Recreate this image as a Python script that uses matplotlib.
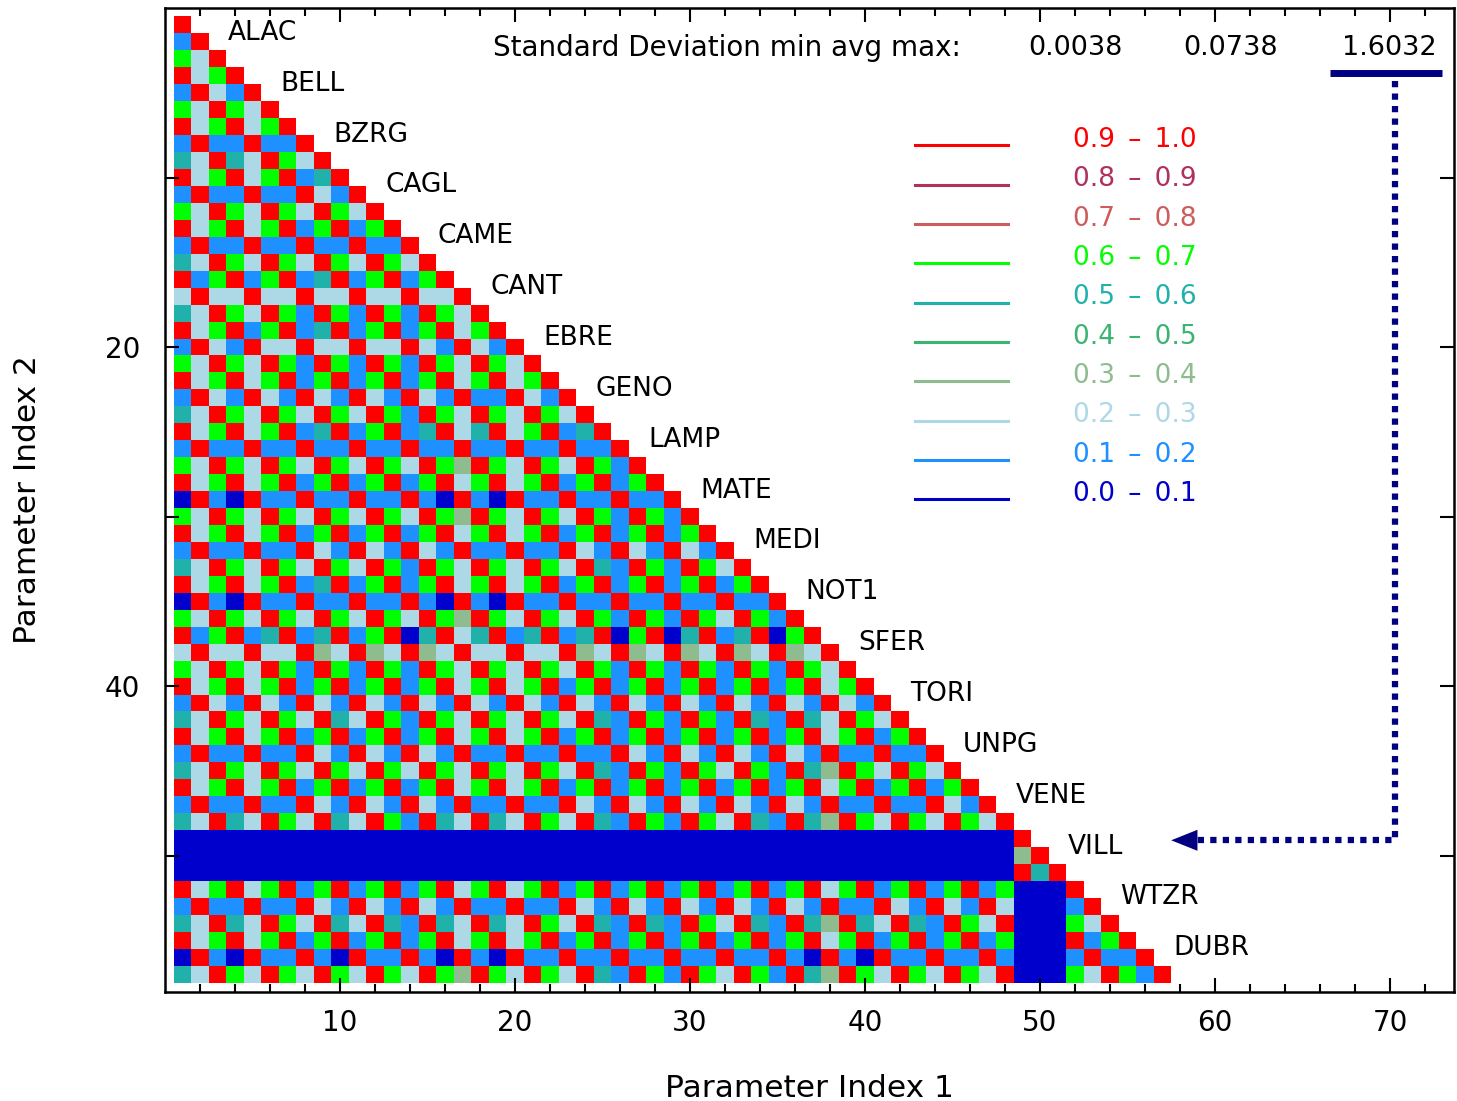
import numpy as np
import matplotlib
matplotlib.use('Agg')
import matplotlib.pyplot as plt
from matplotlib.colors import ListedColormap, BoundaryNorm

stations = ['ALAC', 'BELL', 'BZRG', 'CAGL', 'CAME', 'CANT', 'EBRE', 'GENO',
            'LAMP', 'MATE', 'MEDI', 'NOT1', 'SFER', 'TORI', 'UNPG', 'VENE',
            'VILL', 'WTZR', 'DUBR']

# correlation classes, lowest first; one letter per class in the rows below
class_codes = ['N', 'B', 'L', 'D', 'S', 'T', 'G', 'I', 'M', 'R']
class_colors = ['#0000cd', '#1e90ff', '#add8e6', '#8fbc8f', '#3cb371',
                '#20b2aa', '#00ff00', '#cd5c5c', '#b03060', '#ff0000']
class_lo = ['0.0', '0.1', '0.2', '0.3', '0.4', '0.5', '0.6', '0.7', '0.8', '0.9']
class_hi = ['0.1', '0.2', '0.3', '0.4', '0.5', '0.6', '0.7', '0.8', '0.9', '1.0']

sd_min, sd_avg, sd_max = '0.0038', '0.0738', '1.6032'
worst_station = 'VILL'

# lower triangle, row i = parameter i (groups of 3 = one station)
rows = [
    'R',
    'BR',
    'GLR',
    'RLG R',
    'BRL BR',
    'GLR GLR',
    'RLG RLG R',
    'BRB BRB BR',
    'TLR TLR GLR',
    'RLG RLG RBT R',
    'BRB BRB BRL BR',
    'GLR GLR GLR GLR',
    'RLG RLG RBG RBG R',
    'BRB BRB BRB BRB BR',
    'TLR GLR GLR GLR GLR',
    'RBG RBG RBT RBG RBG R',
    'LRL LRL LRL LRL LRL LR',
    'TLR GLR GBR GBR GBR GLR',
    'RLG RBG RBT RBG RBG RLG R',
    'BRL BRL LRL LRL LRL BRL BR',
    'GLR GLR GBR GBR GBR GLR GLR',
    'RLG RLG RBG RBG RBG RLG RLG R',
    'BRL BRL BRL BRL BRL BRB BRL BR',
    'TLR GLR GLR GLR GBR GLR GLR GLR',
    'RLG RLG RBT RBG RBT RLT RLG RBT R',
    'BRB BRB BRB BRB BRB BRB BRB BRB BR',
    'GLR GLR GLR GLR GLR GDR GLR GLR GBR',
    'RLG RLG RBG RBG RBG RLG RLG RBG RBG R',
    'NRB NRB BRB BRB BRB NRB NRB BRB BRB BR',
    'GLR GLR GLR GLR GLR GDR GLR GLR GBR GBR',
    'RLG RLG RBG RBG RBG RLG RLG RBG RBG RBG R',
    'BRB BRB BRL BRL BRL BRB BRB BRL BRL BRL BR',
    'TLR GLR GLR GLR GBR GLR GLR GLR TBR GBR GLR',
    'RLG RLG RBT RBG RBG RLG RLG RBG RBG RBG RBG R',
    'NRB NRB BRB BRB BRB NRB NRB BRB BRB BRB BRB BR',
    'GLR GLR GLR GLR GLR GDR GLR GLR GBR GBR GLR GBR',
    'RBG RBT RBT RBG RNT RLT RBT RBT RNG RNT RBT RNG R',
    'LRL LRL LRD LRD LRD LRL LRL LRD LRD LRD LRD LRD LR',
    'GLR GLR GBR GBR GBR GLR GLR GLR GBR GBR GBR GBR GLR',
    'RLG RLG RBG RBG RBG RLG RLG RBG RBG RBG RBG RBG RLG R',
    'BRL BRL BRL BRL BRL BRL BRL BRL BRL BRL BRL BRL BRL BR',
    'TLR GLR GLR TLR GBR GLR GLR GLR TBR GBR GBR TBR TLR GLR',
    'RLG RLG RBG RBG RBG RLG RLG RBG RBG RBG RBG RBG RLG RBG R',
    'BRB BRB BRL BRL BRL BRB BRB BRB BRL BRL BRL BRL BRB BRB BR',
    'TLR GLR GLR GLR GLR GLR GLR GLR TBR GBR GLR GBR TDR GLR GLR',
    'RLG RLG RBG RBG RBG RLG RLG RBG RBG RBG RBG RBG RLG RBG RBG R',
    'BRB BRB BRL BRL BRL BRB BRB BRL BRL BRL BRL BRL BRB BRB BRL BR',
    'TLR TLR GLR TLR GBR TLR TLR GLR TBR GBR GLR TBR TDR GLR GLR GLR',
    'NNN NNN NNN NNN NNN NNN NNN NNN NNN NNN NNN NNN NNN NNN NNN NNN R',
    'NNN NNN NNN NNN NNN NNN NNN NNN NNN NNN NNN NNN NNN NNN NNN NNN DR',
    'NNN NNN NNN NNN NNN NNN NNN NNN NNN NNN NNN NNN NNN NNN NNN NNN RTR',
    'RLG RLG RBG RBG RBG RLG RLG RBG RBG RBG RBG RBG RLG RBG RBG RBG NNN R',
    'BRB BRB BRL BRL BRL BRB BRB BRL BRL BRL BRL BRL BRB BRL BRL BRL NNN BR',
    'TLR TLR GLR TLR TBR TLR TLR GLR TBR TBR GLR TBR TDR TLR TBR GLR NNN GLR',
    'RLG RLG RBG RBG RBG RLG RLG RBG RBG RBG RBG RBG RLG RBG RBG RBG NNN RBG R',
    'NRB NRB BRB NRB BRB NRB NRB BRB BRB BRB BRB BRB NRB NRB BRB BRB NNN BRB BR',
    'TLR GLR GLR GLR GLR GDR GLR GLR TBR GBR GLR GBR TDR GLR GLR GLR NNN GLR GBR',
]

n = len(rows)
mat = np.full((n, n), np.nan)
for i, row in enumerate(rows):
    row = row.replace(' ', '')
    assert len(row) == i + 1, (i + 1, len(row))
    for j, ch in enumerate(row):
        mat[i, j] = class_codes.index(ch)
mat = np.ma.masked_invalid(mat)

cmap = ListedColormap(class_colors)
norm = BoundaryNorm(np.arange(-0.5, len(class_colors) + 0.5), len(class_colors))

W, H = 1457, 1101
fig = plt.figure(figsize=(W / 100, H / 100), dpi=100)
ax = fig.add_axes([165 / W, 109 / H, 1289 / W, 984 / H])

edges = np.arange(0.5, n + 1.5)
ax.pcolormesh(edges, edges, mat, cmap=cmap, norm=norm)

ax.set_xlim(0, 73.66)
ax.set_ylim(58.05, 0)

ax.set_xticks(np.arange(10, 71, 10))
ax.set_xticks(np.arange(2, 74, 2), minor=True)
ax.set_yticks(np.arange(10, 51, 10))
ax.set_yticklabels(['', '20', '', '40', ''])
ax.tick_params(which='both', direction='in', top=True, right=True, width=1.5)
ax.tick_params(which='major', length=10, labelsize=20)
ax.tick_params(which='minor', length=6)
ax.tick_params(axis='x', pad=12)
ax.tick_params(axis='y', pad=18)
for sp in ax.spines.values():
    sp.set_linewidth(1.8)

ax.set_xlabel('Parameter Index 1', fontsize=22.5, va='baseline')
ax.xaxis.set_label_coords(0.5, (992 - 1097) / 984)
ax.set_ylabel('Parameter Index 2', fontsize=22.5, va='center')
ax.yaxis.set_label_coords((28 - 165) / 1289, 0.5)

# station names along the diagonal
for k, name in enumerate(stations):
    ax.text(3.6 + 3 * k, 1.47 + 3 * k, name, fontsize=19, va='center', ha='left')

# header with standard deviation stats
ax.text(18.74, 2.36, 'Standard Deviation min avg max:', fontsize=20,
        va='center', ha='left')
for xv, s in zip([52.0, 60.9, 69.94], [sd_min, sd_avg, sd_max]):
    ax.text(xv, 2.36, s, fontsize=19.5, va='center', ha='center')

# marker pointing from max std dev to the worst station's row
row_y = 3 * stations.index(worst_station) + 1.1
ax.plot([66.57, 72.97], [3.83, 3.83], color='#000080', lw=5,
        solid_capstyle='butt')
ax.plot([70.3, 70.3, 59.0], [4.3, row_y, row_y], color='#000080', lw=4.5,
        linestyle=(0, (1, 1)), dash_capstyle='butt')
ax.fill([57.5, 59.0, 59.0], [row_y, row_y - 0.62, row_y + 0.62],
        color='#000080', lw=0)

# legend of correlation classes
for k in range(len(class_colors)):
    c = len(class_colors) - 1 - k
    yy = 8.1 + 2.32 * k
    ax.plot([42.86, 48.17], [yy, yy], color=class_colors[c], lw=2.2)
    ax.text(51.9, yy + 0.1, '{}\u2002\u2013\u2002{}'.format(class_lo[c], class_hi[c]),
            color=class_colors[c], fontsize=19, va='baseline', ha='left')

fig.savefig('out.png', dpi=100)
